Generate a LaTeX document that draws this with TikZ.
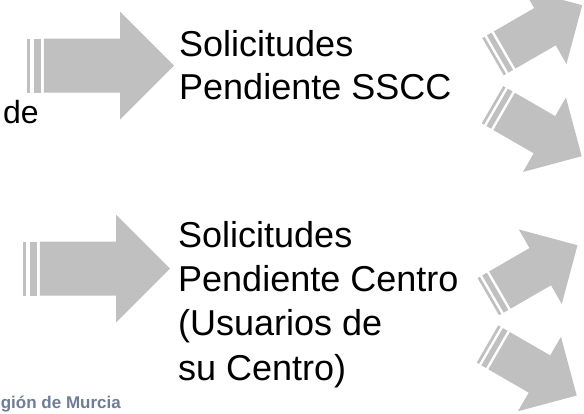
\documentclass[tikz,border=0pt]{standalone}
\usepackage{fontspec}
\setmainfont{Liberation Sans}
\usepackage{xcolor}
\definecolor{arrowgrey}{RGB}{192,192,192}
\definecolor{logoblue}{RGB}{110,125,155}

\tikzset{
    pics/stripedarrow/.style 2 args={code={
        % #1 = total length, #2 = head height
        \fill[arrowgrey] (0,-#2/4) rectangle (#2/32,#2/4);
        \fill[arrowgrey] (#2/16,-#2/4) rectangle (#2/8,#2/4);
        \fill[arrowgrey] (5*#2/32,-#2/4) -- (#1-#2/2,-#2/4) -- (#1-#2/2,-#2/2)
            -- (#1,0) -- (#1-#2/2,#2/2) -- (#1-#2/2,#2/4) -- (5*#2/32,#2/4) -- cycle;
    }},
    labeltext/.style={anchor=base west,align=left,inner sep=0pt,
        font=\fontsize{36}{43}\selectfont}
}

\begin{document}
\begin{tikzpicture}[x=1pt,y=-1pt]
    \useasboundingbox (0,0) rectangle (584,413);
    \fill[white] (0,0) rectangle (584,413);
    \clip (0,0) rectangle (584,413);

    % big arrows
    \pic at (27,65.5) {stripedarrow={147}{108}};
    \pic at (23,268.5) {stripedarrow={147}{108}};

    % small arrows on the right
    \pic[rotate=30] at (493,56.7) {stripedarrow={103}{86}};
    \pic[rotate=-30] at (492.5,104.7) {stripedarrow={103}{86}};
    \pic[rotate=30] at (488.3,296.7) {stripedarrow={103}{86}};
    \pic[rotate=-30] at (487.5,344) {stripedarrow={103}{86}};

    % base anchor sits on the last line
    \node[labeltext] (pendsscc) at (179,99.5) {Solicitudes\\Pendiente SSCC};
    \node[labeltext,font=\fontsize{36}{44.3}\selectfont] (pendcentro) at (178,380)
      {Solicitudes\\Pendiente Centro\\(Usuarios de\\su Centro)};
    \node[anchor=base east,inner sep=0pt,font=\fontsize{32}{38}\selectfont]
      (de) at (39,123) {de};
    \node[anchor=base east,inner sep=0pt,text=logoblue,
          font=\bfseries\fontsize{17}{20}\selectfont]
      (logo) at (121,408) {gión de Murcia};
\end{tikzpicture}
\end{document}
